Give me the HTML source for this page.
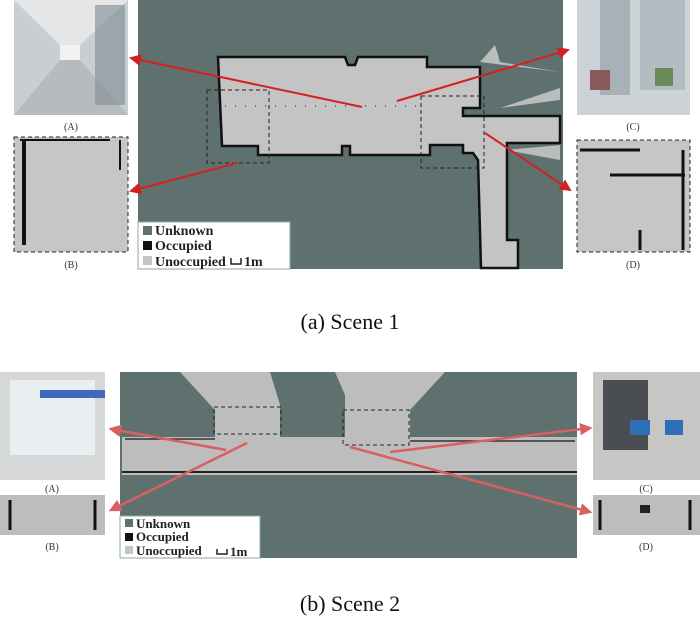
<!DOCTYPE html>
<html><head><meta charset="utf-8"><style>
body{margin:0;background:#fff;width:700px;height:621px;overflow:hidden}
svg{display:block}
.cap{font-family:"Liberation Serif",serif;font-size:22px;fill:#111}
.lab{font-family:"Liberation Serif",serif;font-size:10px;fill:#333}
.lg{font-family:"Liberation Serif",serif;font-weight:bold;font-size:14px;fill:#222}
</style></head><body>
<svg width="700" height="621" viewBox="0 0 700 621">
<defs>
<marker id="ar" markerWidth="6" markerHeight="6" refX="5" refY="3" orient="auto"><path d="M0,0 L6,3 L0,6z" fill="#d42020"/></marker>
<marker id="ar2" markerWidth="5" markerHeight="5" refX="4" refY="2.5" orient="auto"><path d="M0,0 L5,2.5 L0,5z" fill="#d86060"/></marker>
</defs>
<!-- Scene 1 map -->
<rect x="138" y="0" width="425" height="269" fill="#5e716e"/>
<path d="M560,72 L500,62 L495,45 L480,62 Z" fill="#b9bdbc"/>
<path d="M560,100 L500,108 L560,88 Z" fill="#b9bdbc"/>
<path d="M560,160 L505,150 L560,145 Z" fill="#b9bdbc"/>
<path d="M218,57 L345,57 L348,65 L355,65 L358,57 L427,57 L427,67 L480,67 L480,108 L463,108 L463,116 L560,116 L560,143 L507,143 L507,240 L518,240 L518,268 L481,268 L478,160 L473,153 L463,153 L463,145 L430,145 L430,155 L350,155 L350,146 L342,146 L342,155 L258,155 L258,146 L222,146 Z" fill="#c4c4c4" stroke="#111" stroke-width="2.5"/>
<rect x="207" y="90" width="62" height="73" fill="none" stroke="#222" stroke-width="1" stroke-dasharray="4,3"/>
<rect x="421" y="96" width="63" height="72" fill="none" stroke="#222" stroke-width="1" stroke-dasharray="4,3"/>
<line x1="225" y1="106" x2="420" y2="106" stroke="#555" stroke-width="1.5" stroke-dasharray="1,9"/>
<rect x="138" y="222" width="152" height="47" fill="#fff" stroke="#8aa" stroke-width="1"/>
<rect x="143" y="226" width="9" height="9" fill="#5e716e"/><text x="155" y="235" class="lg">Unknown</text>
<rect x="143" y="241" width="9" height="9" fill="#111"/><text x="155" y="250" class="lg">Occupied</text>
<rect x="143" y="256" width="9" height="9" fill="#c4c4c4"/><text x="155" y="266" class="lg">Unoccupied</text>
<path d="M231,258 v6 h10 v-6" fill="none" stroke="#222" stroke-width="1.5"/><text x="244" y="266" class="lg">1m</text>
<g stroke="#d42020" stroke-width="2" marker-end="url(#ar)">
<line x1="362" y1="107" x2="131" y2="58"/>
<line x1="397" y1="101" x2="568" y2="50"/>
<line x1="237" y1="163" x2="131" y2="191"/>
<line x1="485" y1="133" x2="570" y2="190"/>
</g>
<!-- scene1 thumbnails -->
<rect x="14" y="0" width="114" height="115" fill="#c9ced2"/>
<path d="M14,0 L60,45 L80,45 L128,0 Z" fill="#e4e6e8"/><path d="M14,115 L60,60 L80,60 L128,115Z" fill="#b8bbbd"/><rect x="60" y="45" width="20" height="15" fill="#f2f2f2"/>
<rect x="95" y="5" width="30" height="100" fill="#7c8a92" opacity=".6"/>
<text x="71" y="130" class="lab" text-anchor="middle">(A)</text>
<rect x="14" y="137" width="114" height="115" fill="#c6c6c6" stroke="#222" stroke-dasharray="4,3"/>
<path d="M24,140 v105" stroke="#111" stroke-width="4"/><path d="M20,140 h90 M120,140 v30" stroke="#111" stroke-width="2"/>
<text x="71" y="268" class="lab" text-anchor="middle">(B)</text>
<rect x="577" y="0" width="113" height="115" fill="#cdd2d6"/>
<rect x="600" y="0" width="30" height="95" fill="#8e9ba3" opacity=".6"/><rect x="640" y="0" width="45" height="90" fill="#9aa6ad" opacity=".5"/>
<rect x="590" y="70" width="20" height="20" fill="#8a5a5a"/><rect x="655" y="68" width="18" height="18" fill="#6a8a5a"/>
<text x="633" y="130" class="lab" text-anchor="middle">(C)</text>
<rect x="577" y="140" width="113" height="112" fill="#c6c6c6" stroke="#222" stroke-dasharray="4,3"/>
<path d="M580,150 h60 M610,175 h75 M640,230 v20 M683,150 v100" stroke="#111" stroke-width="3"/>
<text x="633" y="268" class="lab" text-anchor="middle">(D)</text>
<text x="350" y="329" class="cap" text-anchor="middle">(a) Scene 1</text>
<!-- Scene 2 map -->
<rect x="120" y="372" width="457" height="186" fill="#5e716e"/>
<path d="M180,372 L270,372 L280,405 L280,440 L215,440 L215,410 Z" fill="#bdbdbd"/>
<path d="M335,372 L445,372 L410,410 L410,443 L345,443 L345,395 Z" fill="#bdbdbd"/>
<rect x="122" y="437" width="455" height="38" fill="#bdbdbd"/>
<path d="M122,472 H577" stroke="#222" stroke-width="2"/><path d="M125,439 H215 M410,441 H575" stroke="#333" stroke-width="1.5"/>
<rect x="214" y="407" width="67" height="27" fill="none" stroke="#222" stroke-dasharray="4,3"/>
<rect x="343" y="410" width="66" height="35" fill="none" stroke="#222" stroke-dasharray="4,3"/>
<rect x="120" y="516" width="140" height="42" fill="#fff" stroke="#8aa"/>
<rect x="125" y="519" width="8" height="8" fill="#5e716e"/><text x="136" y="528" class="lg" style="font-size:13px">Unknown</text>
<rect x="125" y="533" width="8" height="8" fill="#111"/><text x="136" y="541" class="lg" style="font-size:13px">Occupied</text>
<rect x="125" y="546" width="8" height="8" fill="#c4c4c4"/><text x="136" y="555" class="lg" style="font-size:13px">Unoccupied</text>
<path d="M217,549 v5 h10 v-5" fill="none" stroke="#222" stroke-width="1.5"/><text x="230" y="556" class="lg" style="font-size:13px">1m</text>
<g stroke="#d86060" stroke-width="2.5" marker-end="url(#ar2)">
<line x1="226" y1="450" x2="111" y2="429"/>
<line x1="247" y1="443" x2="111" y2="510"/>
<line x1="390" y1="452" x2="590" y2="428"/>
<line x1="350" y1="447" x2="590" y2="512"/>
</g>
<rect x="0" y="372" width="105" height="108" fill="#d6d8d8"/><rect x="10" y="380" width="85" height="75" fill="#e8eef2"/><rect x="40" y="390" width="65" height="8" fill="#3a6ab8"/>
<text x="52" y="492" class="lab" text-anchor="middle">(A)</text>
<rect x="0" y="495" width="105" height="40" fill="#bdbdbd"/><path d="M10,500 v30 M95,500 v30" stroke="#111" stroke-width="3"/>
<text x="52" y="550" class="lab" text-anchor="middle">(B)</text>
<rect x="593" y="372" width="107" height="108" fill="#c8c6c4"/><rect x="603" y="380" width="45" height="70" fill="#4a4e52"/><rect x="630" y="420" width="20" height="15" fill="#2f6fb8"/><rect x="665" y="420" width="18" height="15" fill="#2f6fb8"/>
<text x="646" y="492" class="lab" text-anchor="middle">(C)</text>
<rect x="593" y="495" width="107" height="40" fill="#bdbdbd"/><path d="M600,500 v30 M690,500 v30" stroke="#111" stroke-width="3"/><rect x="640" y="505" width="10" height="8" fill="#222"/>
<text x="646" y="550" class="lab" text-anchor="middle">(D)</text>
<text x="350" y="611" class="cap" text-anchor="middle">(b) Scene 2</text>
</svg>
</body></html>
